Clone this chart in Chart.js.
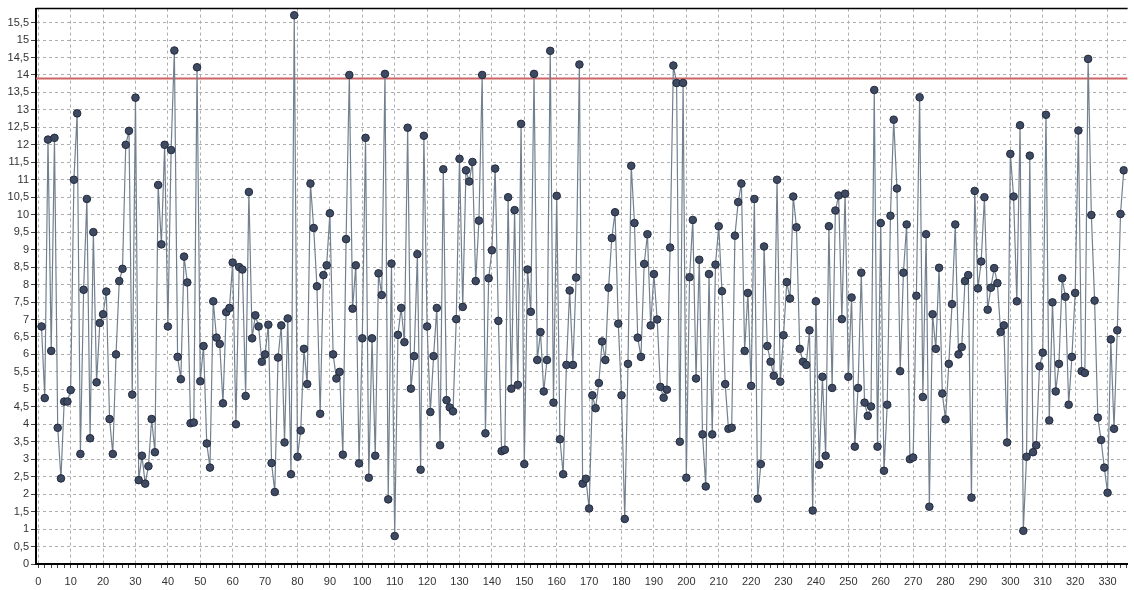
<!DOCTYPE html>
<html>
<head>
<meta charset="utf-8">
<script src="https://cdn.jsdelivr.net/npm/chart.js@4"></script>
<style>
  html, body { margin: 0; padding: 0; background: #fff; }
  canvas { display: block; }
</style>
</head>
<body>
<canvas id="chart" width="1134" height="590"></canvas>
<script>
// one measurement per sample, sample numbers start at 1
var values = [
  6.8, 4.75, 12.15, 6.1, 12.2, 3.9, 2.45, 4.65, 4.65, 4.98,
  11.0, 12.9, 3.15, 7.85, 10.45, 3.6, 9.5, 5.2, 6.9, 7.15,
  7.8, 4.15, 3.15, 6.0, 8.1, 8.45, 12.0, 12.4, 4.85, 13.35,
  2.4, 3.1, 2.3, 2.8, 4.15, 3.2, 10.85, 9.15, 12.0, 6.8,
  11.85, 14.7, 5.93, 5.29, 8.8, 8.06, 4.03, 4.05, 14.22, 5.23,
  6.24, 3.45, 2.76, 7.52, 6.48, 6.3, 4.6, 7.21, 7.33, 8.63,
  4.0, 8.5, 8.43, 4.81, 10.65, 6.46, 7.12, 6.8, 5.79, 6.0,
  6.85, 2.89, 2.06, 5.91, 6.83, 3.48, 7.03, 2.57, 15.71, 3.07,
  3.82, 6.16, 5.15, 10.89, 9.62, 7.95, 4.3, 8.27, 8.55, 10.04,
  6.0, 5.31, 5.5, 3.13, 9.3, 14.0, 7.31, 8.55, 2.88, 6.46,
  12.2, 2.47, 6.46, 3.1, 8.32, 7.7, 14.03, 1.85, 8.6, 0.8,
  6.56, 7.33, 6.35, 12.49, 5.02, 5.95, 8.87, 2.7, 12.26, 6.8,
  4.35, 5.95, 7.33, 3.4, 11.3, 4.69, 4.48, 4.37, 7.01, 11.6,
  7.36, 11.27, 10.95, 11.51, 8.1, 9.83, 14.0, 3.74, 8.18, 8.98,
  11.32, 6.96, 3.23, 3.27, 10.5, 5.02, 10.13, 5.13, 12.6, 2.86,
  8.43, 7.22, 14.03, 5.84, 6.64, 4.94, 5.84, 14.69, 4.62, 10.54,
  3.57, 2.57, 5.7, 7.83, 5.7, 8.2, 14.3, 2.3, 2.44, 1.59,
  4.83, 4.46, 5.18, 6.37, 5.84, 7.91, 9.33, 10.07, 6.88, 4.83,
  1.29, 5.73, 11.4, 9.76, 6.48, 5.93, 8.59, 9.44, 6.83, 8.3,
  7.0, 5.07, 4.76, 4.99, 9.06, 14.27, 13.77, 3.5, 13.77, 2.47,
  8.21, 9.85, 5.31, 8.71, 3.71, 2.22, 8.3, 3.71, 8.57, 9.67,
  7.81, 5.15, 3.87, 3.9, 9.4, 10.36, 10.89, 6.1, 7.76, 5.1,
  10.45, 1.87, 2.86, 9.09, 6.24, 5.79, 5.39, 11.0, 5.22, 6.55,
  8.07, 7.6, 10.52, 9.64, 6.16, 5.79, 5.7, 6.69, 1.53, 7.52,
  2.84, 5.36, 3.1, 9.67, 5.04, 10.12, 10.55, 7.01, 10.6, 5.36,
  7.63, 3.36, 5.04, 8.34, 4.62, 4.24, 4.51, 13.57, 3.36, 9.76,
  2.67, 4.56, 9.97, 12.72, 10.75, 5.52, 8.34, 9.72, 3.0, 3.05,
  7.68, 13.36, 4.78, 9.44, 1.64, 7.15, 6.16, 8.48, 4.88, 4.14,
  5.73, 7.44, 9.72, 6.0, 6.21, 8.1, 8.27, 1.9, 10.68, 7.89,
  8.66, 10.5, 7.28, 7.91, 8.47, 8.04, 6.64, 6.83, 3.48, 11.74,
  10.52, 7.52, 12.56, 0.95, 3.07, 11.69, 3.2, 3.4, 5.66, 6.05,
  12.86, 4.11, 7.49, 4.94, 5.73, 8.18, 7.65, 4.56, 5.93, 7.76,
  12.41, 5.52, 5.47, 14.46, 9.99, 7.54, 4.19, 3.55, 2.76, 2.04,
  6.43, 3.87, 6.69, 10.02, 11.27
];
var firstSample = 1;
var limit = 13.9;

var yTicks = [0, 0.5, 1, 1.5, 2, 2.5, 3, 3.5, 4, 4.5, 5, 5.5, 6, 6.5, 7, 7.5,
  8, 8.5, 9, 9.5, 10, 10.5, 11, 11.5, 12, 12.5, 13, 13.5, 14, 14.5, 15, 15.5];
var xTicks = [0, 10, 20, 30, 40, 50, 60, 70, 80, 90, 100, 110, 120, 130, 140, 150, 160,
  170, 180, 190, 200, 210, 220, 230, 240, 250, 260, 270, 280, 290, 300, 310, 320, 330];
var xMin = -0.7, xMax = 336.2, yMax = 15.9;

var points = values.map(function (v, i) { return {x: i + firstSample, y: v}; });

var gridGray = '#adadad';
var labelFont = {family: 'Liberation Sans, Arial, sans-serif', size: 11};

// black frame line along the top of the plot
var topBorder = {
  id: 'topBorder',
  beforeDatasetsDraw: function (chart) {
    var a = chart.chartArea, ctx = chart.ctx;
    ctx.save();
    ctx.strokeStyle = '#000';
    ctx.lineWidth = 1.5;
    ctx.beginPath();
    ctx.moveTo(a.left, a.top);
    ctx.lineTo(a.right, a.top);
    ctx.stroke();
    ctx.restore();
  }
};

new Chart(document.getElementById('chart'), {
  type: 'line',
  data: {
    datasets: [{
      data: points,
      borderColor: '#72808f',
      borderWidth: 1.2,
      pointRadius: 3.8,
      pointBackgroundColor: '#3e4962',
      pointBorderColor: '#232b3d',
      pointBorderWidth: 1,
      tension: 0,
      order: 0
    }, {
      data: [{x: xMin, y: limit}, {x: xMax, y: limit}],
      borderColor: '#cf6464',
      borderWidth: 2,
      pointRadius: 0,
      order: 1
    }]
  },
  plugins: [topBorder],
  options: {
    responsive: false,
    animation: false,
    devicePixelRatio: 1,
    layout: {padding: {top: 5, right: 0, bottom: 0, left: 0}},
    plugins: {legend: {display: false}, tooltip: {enabled: false}},
    scales: {
      x: {
        type: 'linear',
        min: xMin,
        max: xMax,
        afterBuildTicks: function (s) {
          var t = [];
          for (var v = xTicks[0]; v <= xMax; v += 2) t.push({value: v});
          s.ticks = t;
        },
        afterFit: function (s) { s.height = 26; },
        ticks: {
          autoSkip: false,
          maxRotation: 0,
          padding: 7,
          color: '#333',
          font: labelFont,
          callback: function (v) { return xTicks.indexOf(v) >= 0 ? String(v) : ''; }
        },
        grid: {
          color: function (c) { return c.tick && xTicks.indexOf(c.tick.value) >= 0 ? gridGray : 'rgba(0,0,0,0)'; },
          tickColor: '#444',
          tickLength: 4
        },
        border: {color: '#000', width: 2, dash: [3, 3]}
      },
      y: {
        min: 0,
        max: yMax,
        afterBuildTicks: function (s) {
          s.ticks = yTicks.map(function (v) { return {value: v}; });
        },
        afterFit: function (s) { s.width = 36; },
        ticks: {
          padding: 2,
          color: '#333',
          font: labelFont,
          callback: function (v) { return String(v).replace('.', ','); }
        },
        grid: {color: gridGray, tickColor: '#444', tickLength: 5},
        border: {color: '#000', width: 2, dash: [3, 3]}
      }
    }
  }
});
</script>
</body>
</html>
